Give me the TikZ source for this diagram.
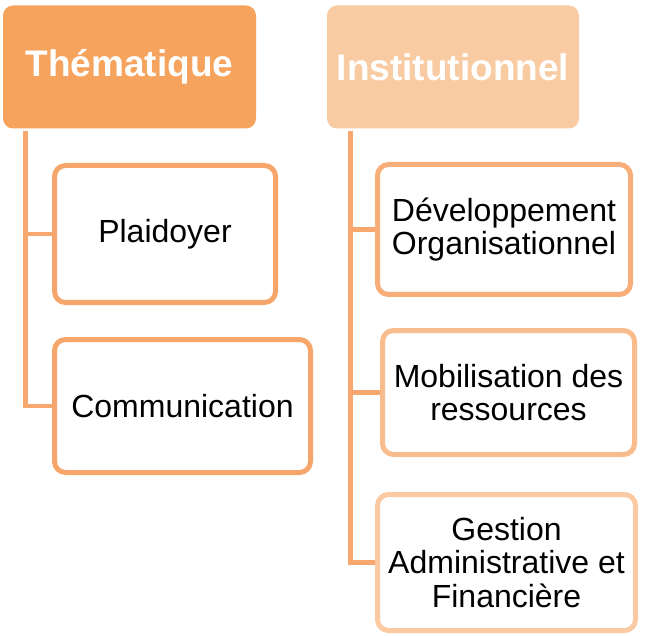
\documentclass[tikz,border=0pt]{standalone}
\usepackage{fontspec}
\setmainfont{Liberation Sans}
\definecolor{darkor}{HTML}{F6A35E}
\definecolor{lightor}{HTML}{F9CBA3}
\definecolor{lineor}{HTML}{F7A86C}
\definecolor{bordA}{HTML}{F7A66B}
\definecolor{bordB}{HTML}{F8AE78}
\definecolor{bordC}{HTML}{F9BC8D}
\definecolor{bordD}{HTML}{FBCAA3}
\begin{document}
\begin{tikzpicture}[x=1pt,y=-1pt,
  head/.style={rectangle, rounded corners=10pt, inner sep=0pt, text=white,
    font=\fontsize{37}{40}\selectfont\bfseries, minimum width=253pt, minimum height=123pt},
  child/.style={rectangle, draw, line width=5pt, rounded corners=11pt, fill=white,
    inner sep=0pt, align=center, font=\fontsize{32}{33.5}\selectfont},
  conn/.style={draw=lineor, line width=4.5pt}
]
\useasboundingbox (0,0) rectangle (645,636);
% headers
\node[head, fill=darkor] (them) at (129.5,67) {Thématique};
\node[head, fill=lightor, minimum width=252pt] (inst) at (453,67) {Institutionnel};
% children left
\node[child, draw=bordA, minimum width=221pt, minimum height=137pt] (plaid) at (165,234) {Plaidoyer};
\node[child, draw=bordA, minimum width=256pt, minimum height=133pt] (comm) at (182.5,406) {Communication};
% children right
\node[child, draw=bordB, minimum width=253pt, minimum height=130pt] (dev) at (504,229.5) {Développement\\Organisationnel};
\node[child, draw=bordC, minimum width=252pt, minimum height=124pt] (mob) at (508.5,392.5) {Mobilisation des\\ressources};
\node[child, draw=bordD, minimum width=258pt, minimum height=136pt] (gest) at (506.5,562.5) {Gestion\\Administrative et\\Financière};
% trunk coordinates
\coordinate (lt) at (25.5,131);
\coordinate (rt) at (350.5,131);
% left connectors
\draw[conn] (lt) |- (comm.west);
\draw[conn] (lt |- plaid.west) -- (plaid.west);
% right connectors
\draw[conn] (rt) |- (gest.west);
\draw[conn] (rt |- dev.west) -- (dev.west);
\draw[conn] (rt |- mob.west) -- (mob.west);
\end{tikzpicture}
\end{document}
